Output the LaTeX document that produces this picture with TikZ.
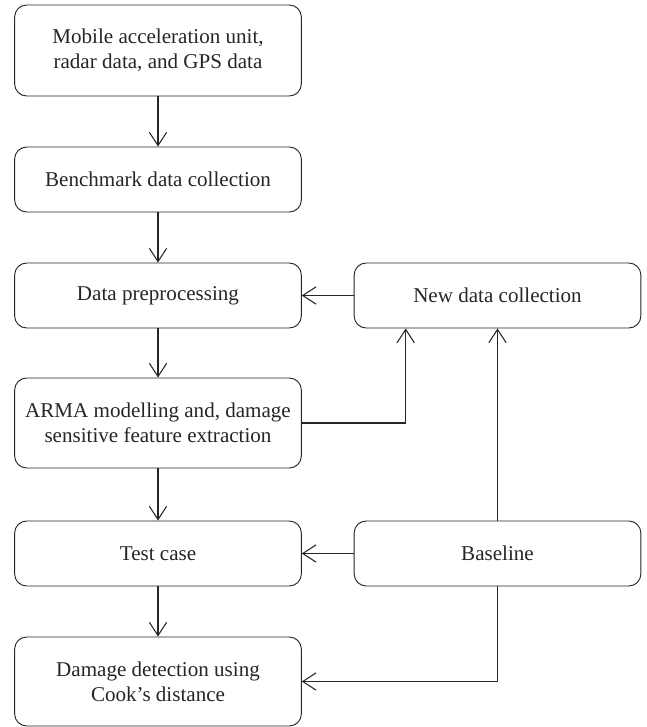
\documentclass[tikz,border=0pt]{standalone}
\usepackage{fontspec}
\setmainfont{Liberation Serif}
\usepackage{tikz}
\usetikzlibrary{arrows.meta,positioning,calc}
\tikzset{
  flowbox/.style={draw=black!85, rounded corners=9pt, line width=0.7pt, minimum width=215pt, minimum height=48.75pt, inner sep=0pt, align=center, text=black!85, font=\fontsize{15.8}{18.75}\selectfont},
  cline/.style={-{Straight Barb[length=10pt, width=13pt, line width=0.8pt]}, line width=1.1pt, draw=black!85},
}
\begin{document}
\begin{tikzpicture}[x=0.75pt, y=-0.75pt]
  \useasboundingbox (0,0) rectangle (646,727);

  \node[flowbox, minimum height=68.25pt] (src) at (158,50.5) {Mobile acceleration unit,\\radar data, and GPS data};
  \node[flowbox] (bench) at (158,179.5) {Benchmark data collection};
  \node[flowbox] (prep) at (158,295.5) {Data preprocessing};
  \node[flowbox] (newd) at (497.5,295.5) {New data collection};
  \node[flowbox, minimum height=67.5pt] (arma) at (158,423) {ARMA modelling and, damage\\sensitive feature extraction};
  \node[flowbox] (test) at (158,553.5) {Test case};
  \node[flowbox] (base) at (497.5,553.5) {Baseline};
  \node[flowbox, minimum height=66.75pt] (dmg) at (158,681.5) {Damage detection using\\Cook’s distance};

  \draw[cline] (src) -- (bench);
  \draw[cline] (bench) -- (prep);
  \draw[cline] (prep) -- (arma);
  \draw[cline] (arma) -- (test);
  \draw[cline] (test) -- (dmg);

  \draw[cline] (newd) -- (prep);
  \draw[cline] (arma.east) -| ([xshift=39pt]newd.south west);
  \draw[cline] (base) -- (newd);
  \draw[cline] (base) -- (test);
  \draw[cline] (base.south) |- (dmg.east);
\end{tikzpicture}
\end{document}
